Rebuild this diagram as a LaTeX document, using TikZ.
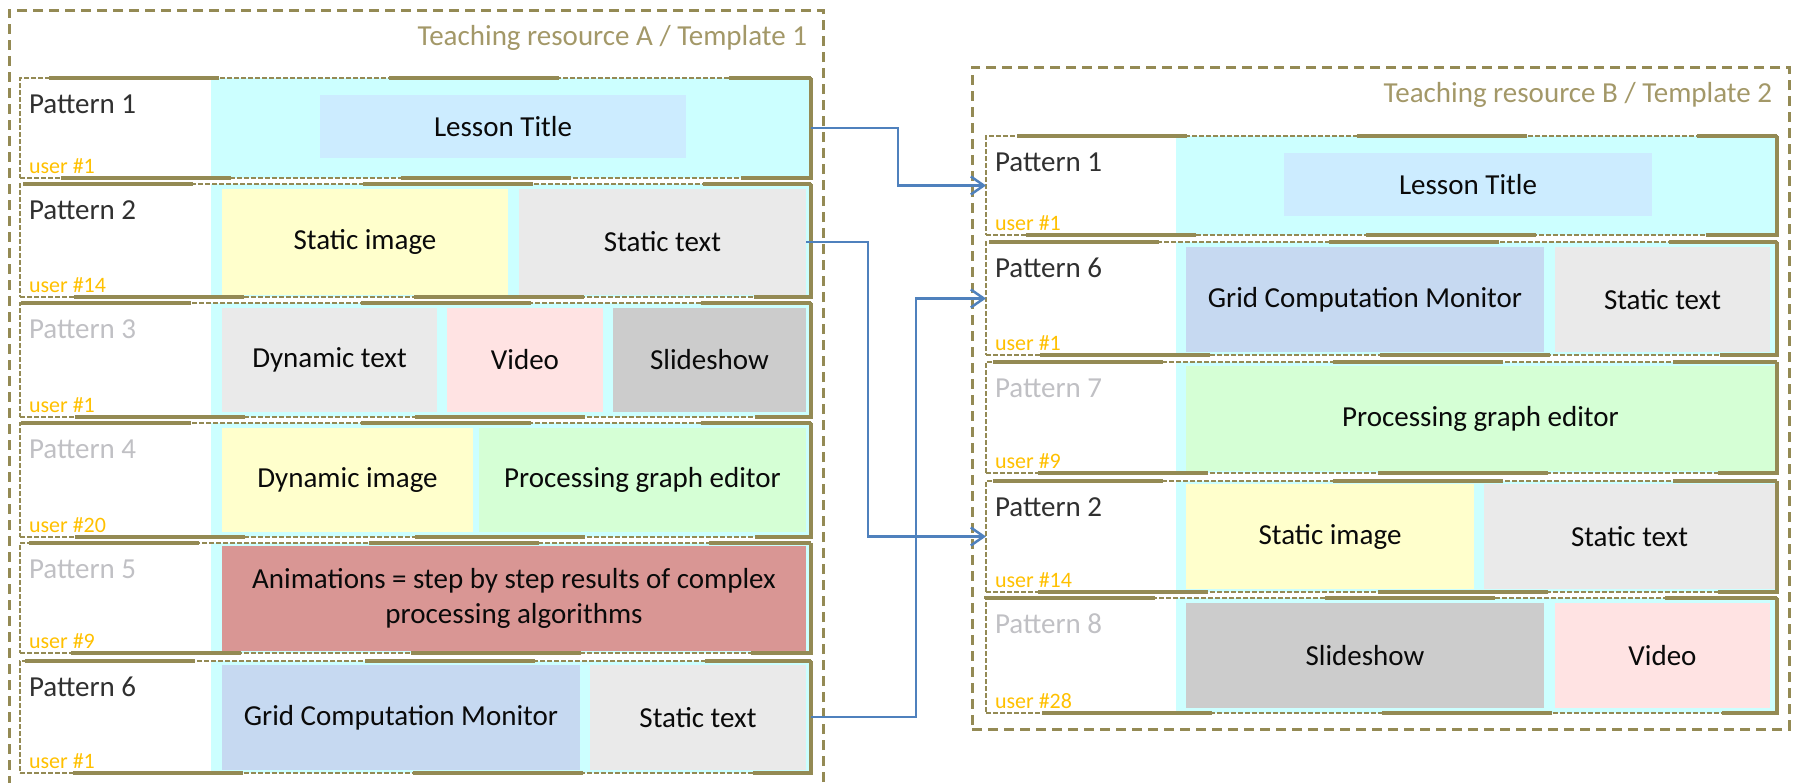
\documentclass[tikz,border=0pt]{standalone}
\usepackage{fontspec}
\setmainfont{Carlito}
\usetikzlibrary{arrows.meta}

\definecolor{frameclr}{HTML}{948A54}
\definecolor{titleclr}{HTML}{A39868}
\definecolor{cyanbg}{HTML}{CCFFFF}
\definecolor{lessonbg}{HTML}{CCECFF}
\definecolor{imgbg}{HTML}{FFFFCC}
\definecolor{txtbg}{HTML}{EAEAEA}
\definecolor{vidbg}{HTML}{FFE3E3}
\definecolor{slidebg}{HTML}{CCCCCC}
\definecolor{pgebg}{HTML}{D5FFD5}
\definecolor{animbg}{HTML}{D99694}
\definecolor{gridbg}{HTML}{C6D9F1}
\definecolor{userclr}{HTML}{FFC000}
\definecolor{patdark}{HTML}{303030}
\definecolor{patgray}{HTML}{C0C0C4}
\definecolor{txtclr}{HTML}{0A0A0A}
\definecolor{linkblue}{HTML}{4F81BD}

\begin{document}
\begin{tikzpicture}[x=1pt,y=-1pt,>={Straight Barb[length=13pt,width=18pt]},
  font=\fontsize{29}{35}\selectfont,
  every node/.style={inner sep=0pt,outer sep=0pt},
  frame/.style={draw=frameclr,line width=3pt,dash pattern=on 10pt off 6pt,anchor=north west},
  rowbox/.style={draw=frameclr,line width=2.5pt,dash pattern=on 5pt off 2pt,anchor=north west,minimum width=791pt},
  rowedge/.style={draw=frameclr,line width=3.5pt,dash pattern=on 170pt off 170pt},
  bg/.style={fill=cyanbg,anchor=north west,minimum width=600pt},
  cell/.style={anchor=north west,text=txtclr},
  pat/.style={anchor=base west,text=patdark},
  patoff/.style={anchor=base west,text=patgray},
  usr/.style={anchor=base west,text=userclr,font=\fontsize{22}{26}\selectfont},
  title/.style={anchor=base east,text=titleclr},
  link/.style={->,draw=linkblue,line width=2.5pt}]

\useasboundingbox (0,0) rectangle (1793,782);

\node[frame,minimum width=814pt,minimum height=790pt] (boxA) at (9,10) {};
\node[frame,minimum width=817pt,minimum height=662pt] (boxB) at (972,67) {};
\node[title] (tA) at (807,45) {Teaching resource A / Template 1};
\node[title] (tB) at (1772,102) {Teaching resource B / Template 2};

\node[bg,minimum height=100pt] (cA1) at (211,78) {};
\node[bg,minimum height=113pt] (cA2) at (211,184) {};
\node[bg,minimum height=114pt] (cA3) at (211,303) {};
\node[bg,minimum height=114pt] (cA4) at (211,423) {};
\node[bg,minimum height=110pt] (cA5) at (211,543) {};
\node[bg,minimum height=112pt] (cA6) at (211,661) {};
\node[bg,minimum height=99pt] (cB1) at (1176,136) {};
\node[bg,minimum height=113pt] (cB2) at (1176,242) {};
\node[bg,minimum height=111pt] (cB3) at (1176,362) {};
\node[bg,minimum height=111pt] (cB4) at (1176,481) {};
\node[bg,minimum height=115pt] (cB5) at (1176,598) {};

\node[cell,fill=lessonbg,minimum width=366pt,minimum height=63pt] (ltA) at (320,95) {Lesson Title};
\node[cell,fill=imgbg,minimum width=286pt,minimum height=106pt] (siA) at (222,189) {Static image};
\node[cell,fill=txtbg,minimum width=287pt,minimum height=106pt] (stA2) at (519,189) {Static text};
\node[cell,fill=txtbg,minimum width=215pt,minimum height=104pt] (dtA) at (222,308) {Dynamic text};
\node[cell,fill=vidbg,minimum width=156pt,minimum height=104pt] (vA) at (447,308) {Video};
\node[cell,fill=slidebg,minimum width=193pt,minimum height=104pt] (ssA) at (613,308) {Slideshow};
\node[cell,fill=imgbg,minimum width=251pt,minimum height=104pt] (diA) at (222,428) {Dynamic image};
\node[cell,fill=pgebg,minimum width=327pt,minimum height=104pt] (pgA) at (479,428) {Processing graph editor};
\node[cell,fill=animbg,minimum width=584pt,minimum height=105pt,align=center] (anA) at (222,546) {Animations = step by step results of complex\\processing algorithms};
\node[cell,fill=gridbg,minimum width=358pt,minimum height=105pt] (gcA) at (222,665) {Grid Computation Monitor};
\node[cell,fill=txtbg,minimum width=216pt,minimum height=105pt] (stA6) at (590,665) {Static text};

\node[cell,fill=lessonbg,minimum width=368pt,minimum height=63pt] (ltB) at (1284,153) {Lesson Title};
\node[cell,fill=gridbg,minimum width=358pt,minimum height=105pt] (gcB) at (1186,247) {Grid Computation Monitor};
\node[cell,fill=txtbg,minimum width=215pt,minimum height=105pt] (stB2) at (1555,247) {Static text};
\node[cell,fill=pgebg,minimum width=589pt,minimum height=105pt] (pgB) at (1186,366) {Processing graph editor};
\node[cell,fill=imgbg,minimum width=288pt,minimum height=105pt] (siB) at (1186,484) {Static image};
\node[cell,fill=txtbg,minimum width=291pt,minimum height=105pt] (stB4) at (1484,484) {Static text};
\node[cell,fill=slidebg,minimum width=358pt,minimum height=105pt] (ssB) at (1186,603) {Slideshow};
\node[cell,fill=vidbg,minimum width=215pt,minimum height=105pt] (vB) at (1555,603) {Video};

\node[rowbox,minimum height=100pt] (rA1) at (20,78) {};
\node[rowbox,minimum height=113pt] (rA2) at (20,184) {};
\node[rowbox,minimum height=114pt] (rA3) at (20,303) {};
\node[rowbox,minimum height=114pt] (rA4) at (20,423) {};
\node[rowbox,minimum height=110pt] (rA5) at (20,543) {};
\node[rowbox,minimum height=112pt] (rA6) at (20,661) {};
\node[rowbox,minimum height=99pt] (rB1) at (986,136) {};
\node[rowbox,minimum height=113pt] (rB2) at (986,242) {};
\node[rowbox,minimum height=111pt] (rB3) at (986,362) {};
\node[rowbox,minimum height=111pt] (rB4) at (986,481) {};
\node[rowbox,minimum height=115pt] (rB5) at (986,598) {};

\foreach \r in {rA1,rA2,rA3,rA4,rA5,rA6,rB1,rB2,rB3,rB4,rB5}
  \draw[rowedge] (\r.north east) rectangle (\r.south west);

\node[pat] (pA1) at ([shift={(9,35)}]rA1.north west) {Pattern 1};
\node[pat] (pA2) at ([shift={(9,35)}]rA2.north west) {Pattern 2};
\node[patoff] (pA3) at ([shift={(9,35)}]rA3.north west) {Pattern 3};
\node[patoff] (pA4) at ([shift={(9,35)}]rA4.north west) {Pattern 4};
\node[patoff] (pA5) at ([shift={(9,35)}]rA5.north west) {Pattern 5};
\node[pat] (pA6) at ([shift={(9,35)}]rA6.north west) {Pattern 6};
\node[pat] (pB1) at ([shift={(9,35)}]rB1.north west) {Pattern 1};
\node[pat] (pB2) at ([shift={(9,35)}]rB2.north west) {Pattern 6};
\node[patoff] (pB3) at ([shift={(9,35)}]rB3.north west) {Pattern 7};
\node[pat] (pB4) at ([shift={(9,35)}]rB4.north west) {Pattern 2};
\node[patoff] (pB5) at ([shift={(9,35)}]rB5.north west) {Pattern 8};

\node[usr] (uA1) at ([shift={(9,-5)}]rA1.south west) {user \#1};
\node[usr] (uA2) at ([shift={(9,-5)}]rA2.south west) {user \#14};
\node[usr] (uA3) at ([shift={(9,-5)}]rA3.south west) {user \#1};
\node[usr] (uA4) at ([shift={(9,-5)}]rA4.south west) {user \#20};
\node[usr] (uA5) at ([shift={(9,-5)}]rA5.south west) {user \#9};
\node[usr] (uA6) at ([shift={(9,-5)}]rA6.south west) {user \#1};
\node[usr] (uB1) at ([shift={(9,-5)}]rB1.south west) {user \#1};
\node[usr] (uB2) at ([shift={(9,-5)}]rB2.south west) {user \#1};
\node[usr] (uB3) at ([shift={(9,-5)}]rB3.south west) {user \#9};
\node[usr] (uB4) at ([shift={(9,-5)}]rB4.south west) {user \#14};
\node[usr] (uB5) at ([shift={(9,-5)}]rB5.south west) {user \#28};

\draw[link] (rA1.east) -- ++(87,0) |- (rB1.west);
\draw[link] (stA2.east) -- ++(62,0) |- (rB4.west);
\draw[link] (rA6.east) -- ++(105,0) |- (rB2.west);
\end{tikzpicture}
\end{document}
